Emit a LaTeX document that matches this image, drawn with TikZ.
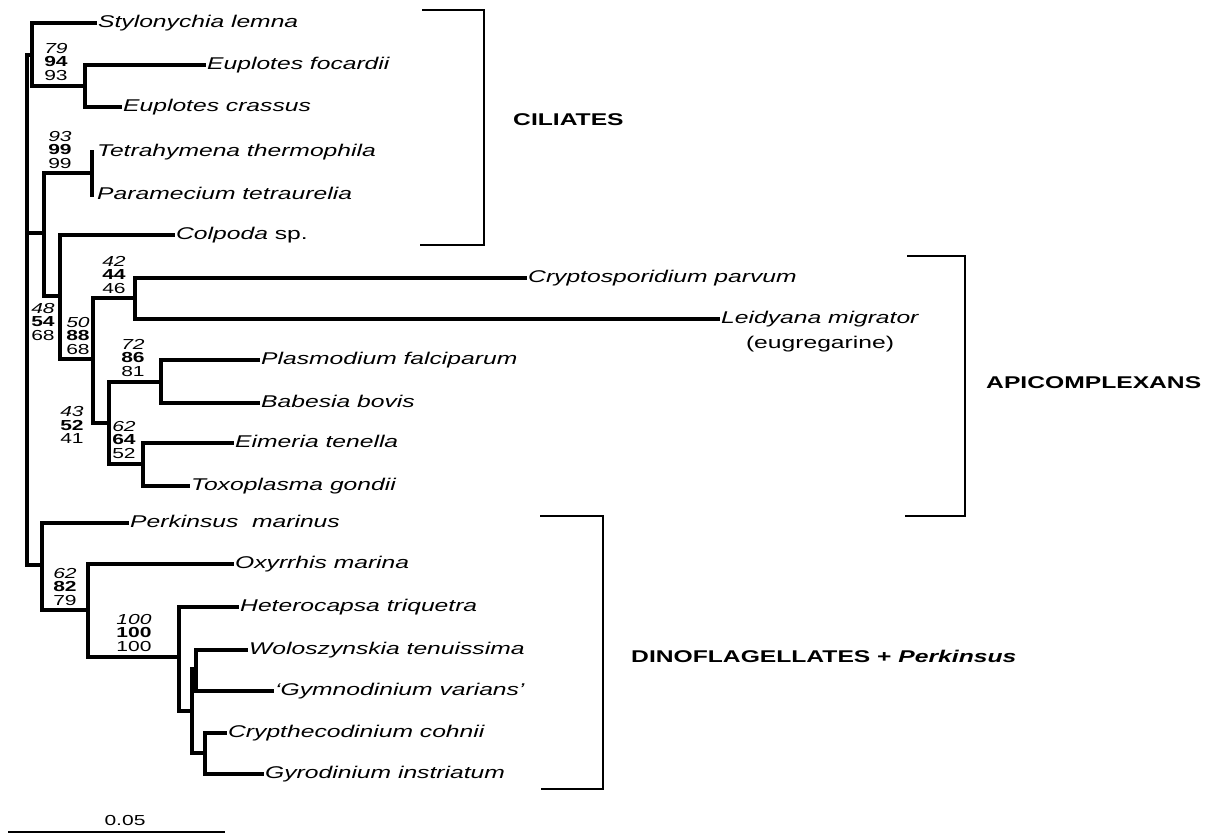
\documentclass[tikz,border=0pt]{standalone}
\usepackage{fontspec}
\setmainfont{Liberation Sans}[FakeStretch=1.45]
\begin{document}
\begin{tikzpicture}[x=1pt,y=-1pt,
  br/.style={line width=3.2pt, line cap=rect},
  brk/.style={line width=2.2pt},
  leaf/.style={anchor=west, inner xsep=3pt, inner ysep=0pt, text height=12pt, text depth=3.5pt, font=\fontsize{17}{20}\selectfont\itshape},
  boot/.style={align=center, inner sep=0pt, font=\fontsize{14.5}{13.5}\selectfont},
  grp/.style={anchor=west, inner sep=0pt, font=\fontsize{17}{20}\selectfont\bfseries}]
\useasboundingbox (0,0) rectangle (1216,834);
% leaves
\node[leaf] (sty) at (95,23) {Stylonychia lemna};
\node[leaf] (efo) at (204,65) {Euplotes focardii};
\node[leaf] (ecr) at (120,107) {Euplotes crassus};
\node[leaf,inner xsep=5pt] (tet) at (92,152) {Tetrahymena thermophila};
\node[leaf,inner xsep=5pt] (par) at (92,195) {Paramecium tetraurelia};
\node[leaf] (col) at (173,235) {Colpoda {\upshape sp.}};
\node[leaf] (cry) at (525,278) {Cryptosporidium parvum};
\node[leaf] (lei) at (718,319) {Leidyana migrator};
\node[inner sep=0pt, font=\fontsize{17}{20}\selectfont] (eug) at (820,344) {(eugregarine)};
\node[leaf] (pla) at (258,360) {Plasmodium falciparum};
\node[leaf] (bab) at (258,403) {Babesia bovis};
\node[leaf] (eim) at (232,443) {Eimeria tenella};
\node[leaf] (tox) at (188,486) {Toxoplasma gondii};
\node[leaf] (per) at (127,523) {Perkinsus\ \ marinus};
\node[leaf] (oxy) at (232,564) {Oxyrrhis marina};
\node[leaf] (het) at (237,607) {Heterocapsa triquetra};
\node[leaf] (wol) at (246,650) {Woloszynskia tenuissima};
\node[leaf] (gym) at (272,691) {`Gymnodinium varians'};
\node[leaf] (cth) at (225,733) {Crypthecodinium cohnii};
\node[leaf] (gyr) at (262,774) {Gyrodinium instriatum};
% internal nodes
\coordinate (R) at (27,233);
\coordinate (A) at (32,55);
\coordinate (Eu) at (85,86);
\coordinate (B) at (44,233);
\coordinate (TP) at (92,173);
\coordinate (C) at (60,296);
\coordinate (D) at (93,359);
\coordinate (F) at (135,298);
\coordinate (E) at (109,423);
\coordinate (P) at (161,382);
\coordinate (Ei) at (143,464);
\coordinate (G) at (42,565);
\coordinate (H) at (88,610);
\coordinate (I) at (179,657);
\coordinate (J) at (192,711);
\coordinate (K) at (196,669);
\coordinate (L) at (205,753);
% branches
\draw[br] (R) |- (A);  \draw[br] (R) |- (B);  \draw[br] (R) |- (G);
\draw[br] (A) |- (sty.west);  \draw[br] (A) |- (Eu);
\draw[br] (Eu) |- (efo.west);  \draw[br] (Eu) |- (ecr.west);
\draw[br] (B) |- (TP);  \draw[br] (B) |- (C);
\draw[br] (TP) |- (tet.west);  \draw[br] (TP) |- (par.west);
\draw[br] (C) |- (col.west);  \draw[br] (C) |- (D);
\draw[br] (D) |- (F);  \draw[br] (D) |- (E);
\draw[br] (F) |- (cry.west);  \draw[br] (F) |- (lei.west);
\draw[br] (E) |- (P);  \draw[br] (E) |- (Ei);
\draw[br] (P) |- (pla.west);  \draw[br] (P) |- (bab.west);
\draw[br] (Ei) |- (eim.west);  \draw[br] (Ei) |- (tox.west);
\draw[br] (G) |- (per.west);  \draw[br] (G) |- (H);
\draw[br] (H) |- (oxy.west);  \draw[br] (H) |- (I);
\draw[br] (I) |- (het.west);  \draw[br] (I) |- (J);
\draw[br] (J) |- (K);  \draw[br] (J) |- (L);
\draw[br] (K) |- (wol.west);  \draw[br] (K) |- (gym.west);
\draw[br] (L) |- (cth.west);  \draw[br] (L) |- (gyr.west);
% bootstrap values
\node[boot] (b1) at (56,62) {\textit{79}\\\textbf{94}\\93};
\node[boot] (b2) at (60,150) {\textit{93}\\\textbf{99}\\99};
\node[boot] (b3) at (114,275) {\textit{42}\\\textbf{44}\\46};
\node[boot] (b4) at (43,322) {\textit{48}\\\textbf{54}\\68};
\node[boot] (b5) at (78,336) {\textit{50}\\\textbf{88}\\68};
\node[boot] (b6) at (133,358) {\textit{72}\\\textbf{86}\\81};
\node[boot] (b7) at (72,425) {\textit{43}\\\textbf{52}\\41};
\node[boot] (b8) at (124,440) {\textit{62}\\\textbf{64}\\52};
\node[boot] (b9) at (65,587) {\textit{62}\\\textbf{82}\\79};
\node[boot] (b10) at (134,633) {\textit{100}\\\textbf{100}\\100};
% brackets
\draw[brk] (422,10) -- (484,10) -- (484,245) -- (420,245);
\draw[brk] (907,256) -- (965,256) -- (965,516) -- (905,516);
\draw[brk] (540,516) -- (603,516) -- (603,789) -- (541,789);
% group labels
\node[grp] (cil) at (513,120) {CILIATES};
\node[grp] (api) at (986,383) {APICOMPLEXANS};
\node[grp] (din) at (631,656) {DINOFLAGELLATES + \textit{Perkinsus}};
% scale bar
\coordinate (s0) at (8,832);
\coordinate (s1) at (225,832);
\draw[line width=2.6pt] (s0) -- (s1);
\node[inner sep=0pt, font=\fontsize{14.5}{17}\selectfont] (sc) at (125,821) {0.05};
\end{tikzpicture}
\end{document}
